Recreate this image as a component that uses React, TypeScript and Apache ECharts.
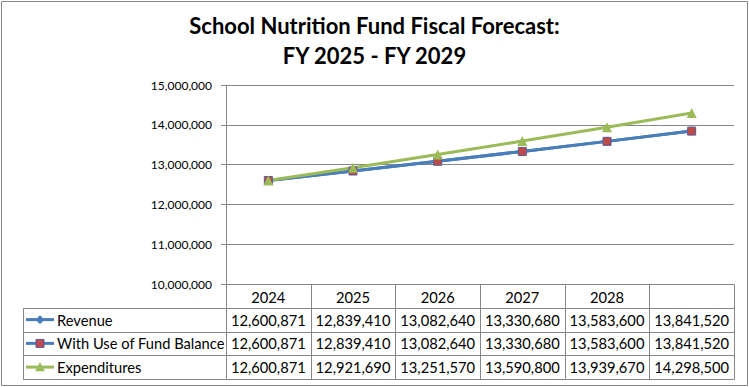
import React, { useEffect, useRef } from 'react';
import * as echarts from 'echarts';

const categories = ['2024', '2025', '2026', '2027', '2028', ''];
const revenue = [12600871, 12839410, 13082640, 13330680, 13583600, 13841520];
const withFundBalance = [12600871, 12839410, 13082640, 13330680, 13583600, 13841520];
const expenditures = [12600871, 12921690, 13251570, 13590800, 13939670, 14298500];
const seriesNames = ['Revenue', 'With Use of Fund Balance', 'Expenditures'];
const titleText = 'School Nutrition Fund Fiscal Forecast:\nFY 2025 - FY 2029';
const yMin = 10000000;
const yMax = 15000000;
const yInterval = 1000000;

const BLUE = '#4A7EBB';
const RED = '#BE4B48';
const GREEN = '#9BBB59';
const GRID = '#878787';
const FONT = 'Lato';
const TABLE_FS = 14.7;

const fmt = (v: number) => v.toLocaleString('en-US');

export default function App() {
  const ref = useRef<HTMLDivElement>(null);
  useEffect(() => {
    if (!ref.current) return;
    const chart = echarts.init(ref.current, undefined, { renderer: 'svg' });
    const seriesData = [revenue, withFundBalance, expenditures];
    chart.setOption({
      animation: false,
      backgroundColor: '#fff',
      title: {
        text: titleText,
        left: 'center',
        top: 10,
        padding: 0,
        textStyle: { fontFamily: FONT, fontWeight: 'bold', fontSize: 22, lineHeight: 30, color: '#000' },
      },
      grid: { left: 226, right: 15, top: 85, bottom: 103, containLabel: false },
      xAxis: {
        type: 'category',
        data: categories,
        boundaryGap: true,
        axisLine: { show: true, lineStyle: { color: GRID, width: 1 } },
        axisTick: { show: false },
        axisLabel: { fontFamily: FONT, fontSize: TABLE_FS, color: '#000', margin: 5, interval: 0 },
        splitLine: { show: false },
      },
      yAxis: {
        type: 'value',
        min: yMin,
        max: yMax,
        interval: yInterval,
        axisLine: { show: true, lineStyle: { color: GRID, width: 1 } },
        axisTick: { show: true, length: 5, lineStyle: { color: GRID } },
        axisLabel: { fontFamily: FONT, fontSize: 12, color: '#000', margin: 14, formatter: (v: number) => fmt(v) },
        splitLine: { show: true, lineStyle: { color: GRID, width: 1 } },
      },
      series: [
        {
          name: seriesNames[0], type: 'line', data: seriesData[0], symbol: 'diamond', symbolSize: 9,
          lineStyle: { width: 3, color: BLUE }, itemStyle: { color: BLUE },
        },
        {
          name: seriesNames[1], type: 'line', data: seriesData[1], symbol: 'rect', symbolSize: 8,
          lineStyle: { width: 3, color: BLUE }, itemStyle: { color: RED, borderColor: '#5B5B9B', borderWidth: 1 },
        },
        {
          name: seriesNames[2], type: 'line', data: seriesData[2], symbol: 'triangle', symbolSize: 10,
          lineStyle: { width: 3, color: GREEN }, itemStyle: { color: GREEN },
        },
      ],
    });

    const centers = categories.map((_, i) => chart.convertToPixel({ xAxisIndex: 0 }, i) as number);
    const band = centers[1] - centers[0];
    const left = centers[0] - band / 2;
    const right = centers[centers.length - 1] + band / 2;
    const plotBottom = chart.convertToPixel({ yAxisIndex: 0 }, yMin) as number;
    const rowH = 23.75;
    const tableLeft = 23;
    const crisp = (v: number) => Math.round(v) + 0.5;
    const bottom = plotBottom + rowH * 4;
    const graphics: any[] = [];
    const ls = { stroke: GRID, lineWidth: 1 };
    for (let k = 1; k <= 4; k++) {
      const y = crisp(plotBottom + rowH * k);
      graphics.push({ type: 'line', silent: true, shape: { x1: tableLeft, y1: y, x2: crisp(right), y2: y }, style: ls });
    }
    for (let j = 0; j <= categories.length; j++) {
      const x = crisp(left + band * j);
      graphics.push({ type: 'line', silent: true, shape: { x1: x, y1: crisp(plotBottom), x2: x, y2: crisp(bottom) }, style: ls });
    }
    graphics.push({ type: 'line', silent: true, shape: { x1: crisp(tableLeft), y1: crisp(plotBottom + rowH), x2: crisp(tableLeft), y2: crisp(bottom) }, style: ls });
    const colors = [BLUE, BLUE, GREEN];
    seriesNames.forEach((name, r) => {
      const cy = plotBottom + rowH * (r + 1) + rowH / 2;
      graphics.push({ type: 'line', silent: true, shape: { x1: 26, y1: cy, x2: 54, y2: cy }, style: { stroke: colors[r], lineWidth: 3 } });
      if (r === 0) {
        graphics.push({ type: 'polygon', silent: true, shape: { points: [[40, cy - 4.5], [44.5, cy], [40, cy + 4.5], [35.5, cy]] }, style: { fill: BLUE } });
      } else if (r === 1) {
        graphics.push({ type: 'rect', silent: true, shape: { x: 36, y: cy - 4, width: 8, height: 8 }, style: { fill: RED, stroke: '#5B5B9B', lineWidth: 1 } });
      } else {
        graphics.push({ type: 'polygon', silent: true, shape: { points: [[40, cy - 5], [45, cy + 4], [35, cy + 4]] }, style: { fill: GREEN } });
      }
      graphics.push({ type: 'text', silent: true, x: 57, y: cy, style: { text: name, fontFamily: FONT, fontSize: TABLE_FS, fill: '#000', align: 'left', verticalAlign: 'middle' } });
      seriesData[r].forEach((v, i) => {
        graphics.push({ type: 'text', silent: true, x: centers[i], y: cy, style: { text: fmt(v), fontFamily: FONT, fontSize: TABLE_FS, fill: '#000', align: 'center', verticalAlign: 'middle' } });
      });
    });
    graphics.push({ type: 'rect', silent: true, shape: { x: 1.5, y: 1.5, width: 746, height: 384 }, style: { fill: 'none', stroke: GRID, lineWidth: 1 } });
    chart.setOption({ graphic: graphics });

    return () => chart.dispose();
  }, []);
  return <div ref={ref} style={{ position: 'fixed', left: 0, top: 0, width: 749, height: 387 }} />;
}
